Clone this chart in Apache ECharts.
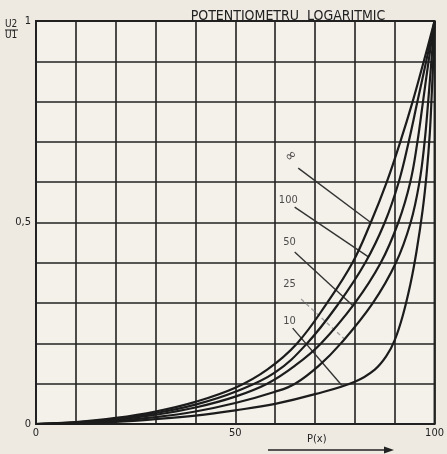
<!DOCTYPE html>
<html>
<head>
<meta charset="utf-8">
<script src="https://cdn.jsdelivr.net/npm/echarts@6/dist/echarts.min.js"></script>
<style>
html,body{margin:0;padding:0;background:#eeeae2;}
#c{width:447px;height:454px;}
</style>
</head>
<body>
<div id="c"></div>
<script>
// ---- data ----
const title = 'POTENTIOMETRU  LOGARITMIC';
const curveNames = ['∞', '100', '50', '25', '10'];

const pInf = [0, 10, 20, 30, 40, 50, 58, 65.5, 73, 79.4, 84, 88, 91.4, 94.5, 97.3, 100];
const uInf = [0, 0.005, 0.015, 0.031, 0.055, 0.09, 0.135, 0.2, 0.3, 0.4, 0.5, 0.6, 0.7, 0.8, 0.9, 1];

const p100 = [0, 10, 20, 30, 40, 50, 60, 68, 76, 82.6, 87.5, 91, 93.5, 95.7, 97.9, 100];
const u100 = [0, 0.004, 0.013, 0.027, 0.048, 0.08, 0.128, 0.2, 0.3, 0.4, 0.5, 0.6, 0.7, 0.8, 0.9, 1];

const p50 = [0, 10, 20, 30, 40, 50, 58, 65, 71.5, 80, 86.5, 90.9, 93.9, 95.7, 97.1, 98.5, 100];
const u50 = [0, 0.003, 0.011, 0.023, 0.041, 0.068, 0.1, 0.145, 0.2, 0.3, 0.4, 0.5, 0.6, 0.7, 0.8, 0.9, 1];

const p25 = [0, 10, 20, 30, 40, 50, 60, 65, 71, 76.5, 84.5, 90.3, 94, 96.2, 97.5, 98.4, 99.2, 100];
const u25 = [0, 0.002, 0.008, 0.017, 0.031, 0.052, 0.08, 0.1, 0.145, 0.2, 0.3, 0.4, 0.5, 0.6, 0.7, 0.8, 0.9, 1];

const p10 = [0, 10, 20, 30, 40, 50, 60, 70, 80, 85, 88, 90, 92, 94, 95.5, 97, 98, 98.8, 99.3, 99.7, 100];
const u10 = [0, 0.001, 0.005, 0.012, 0.021, 0.034, 0.05, 0.074, 0.105, 0.135, 0.17, 0.208, 0.268, 0.35, 0.43, 0.53, 0.62, 0.72, 0.82, 0.91, 1];

// leader lines (label -> curve) and label anchors, in data units
const leaderStart = [[65.8, 0.635], [64.9, 0.538], [64.9, 0.427], [66.5, 0.31], [64.4, 0.238]];
const leaderEnd   = [[84.0, 0.5], [83.5, 0.414], [79.6, 0.293], [77.5, 0.21], [76.7, 0.096]];
const labelAt     = [[64.0, 0.665], [63.3, 0.555], [63.6, 0.452], [63.6, 0.347], [63.6, 0.255]];

const xTickLabels = ['0', '50', '100'];
const yTickLabels = ['0', '0,5', '1'];

// ---- chart ----
const ink = '#222';
const font = 'DejaVu Sans Condensed';
const curves = [[pInf, uInf], [p100, u100], [p50, u50], [p25, u25], [p10, u10]];
const zip = (a, b) => a.map((v, i) => [v, b[i]]);

const series = [];
curves.forEach((c, i) => {
  series.push({
    type: 'line', name: curveNames[i], data: zip(c[0], c[1]),
    smooth: 0.4, showSymbol: false, silent: true,
    lineStyle: { color: '#1c1c1c', width: 2.2 }, z: 5
  });
});
leaderStart.forEach((s, i) => {
  series.push({
    type: 'line', data: [s, leaderEnd[i]], showSymbol: false, silent: true,
    lineStyle: { color: i === 3 ? '#a0a0a0' : '#333', width: 1.4, type: i === 3 ? [4, 3] : 'solid' }, z: 4
  });
});
series.push({
  type: 'scatter', symbolSize: 0, silent: true, z: 6,
  data: labelAt.map((p, i) => ({
    value: p,
    label: {
      show: true, formatter: curveNames[i], position: 'inside',
      color: ink, fontFamily: font, fontSize: i === 0 ? 15 : 11,
      rotate: i === 0 ? 35 : 0
    }
  }))
});

const chart = echarts.init(document.getElementById('c'), null, { renderer: 'canvas' });
chart.setOption({
  backgroundColor: '#eeeae2',
  animation: false,
  title: {
    text: title, left: 283, top: 4, textAlign: 'center',
    textStyle: { fontFamily: font, fontSize: 14, fontWeight: 'normal', color: ink }
  },
  grid: {
    left: 36, right: 4, top: 21, bottom: 30, show: true,
    borderColor: ink, borderWidth: 2, backgroundColor: '#f4f1eb'
  },
  xAxis: {
    type: 'value', min: 0, max: 100, interval: 10,
    axisLine: { show: false }, axisTick: { show: false },
    splitLine: { show: true, lineStyle: { color: ink, width: 1.6 } },
    axisLabel: {
      color: ink, fontFamily: font, fontSize: 11, margin: 4,
      formatter: v => (v === 0 ? xTickLabels[0] : v === 50 ? xTickLabels[1] : v === 100 ? xTickLabels[2] : '')
    }
  },
  yAxis: {
    type: 'value', min: 0, max: 1, interval: 0.1,
    axisLine: { show: false }, axisTick: { show: false },
    splitLine: { show: true, lineStyle: { color: ink, width: 1.6 } },
    axisLabel: {
      color: ink, fontFamily: font, fontSize: 11, margin: 5,
      formatter: v => (Math.abs(v) < 1e-9 ? yTickLabels[0] : Math.abs(v - 0.5) < 1e-9 ? yTickLabels[1] : Math.abs(v - 1) < 1e-9 ? yTickLabels[2] : '')
    }
  },
  graphic: [
    { type: 'text', left: 5, top: 19, style: { text: 'U2', font: '10px "DejaVu Sans Condensed"', fill: ink } },
    { type: 'line', shape: { x1: 5, y1: 30, x2: 18, y2: 30 }, style: { stroke: ink, lineWidth: 1 } },
    { type: 'text', left: 5, top: 30, style: { text: 'U1', font: '10px "DejaVu Sans Condensed"', fill: ink } },
    { type: 'text', left: 307, top: 434, style: { text: 'P(x)', font: '11px "DejaVu Sans Condensed"', fill: ink } },
    { type: 'line', shape: { x1: 268, y1: 450, x2: 386, y2: 450 }, style: { stroke: ink, lineWidth: 1.5 } },
    { type: 'polygon', shape: { points: [[384, 446.5], [394, 450], [384, 453.5]] }, style: { fill: ink } }
  ],
  series: series
});
</script>
</body>
</html>
